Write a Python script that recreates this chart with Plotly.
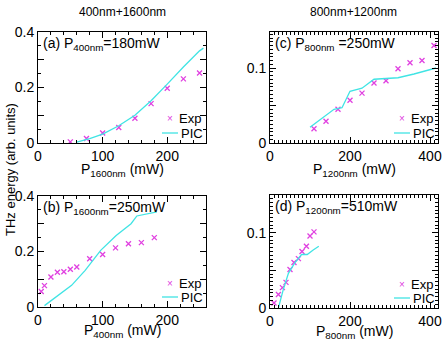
import plotly.graph_objects as go

W, H = 443, 343

# (a) P400nm = 180 mW, scan P1600nm
a_exp_x = [50, 75, 100, 125, 150, 175, 200, 225, 250]
a_exp_y = [0.004, 0.016, 0.036, 0.056, 0.089, 0.142, 0.197, 0.231, 0.252]
a_pic_x = [60, 80, 100, 125, 150, 175, 200, 225, 250, 256]
a_pic_y = [0.003, 0.016, 0.032, 0.062, 0.100, 0.152, 0.212, 0.274, 0.332, 0.342]

# (b) P1600nm = 250 mW, scan P400nm
b_exp_x = [5, 10, 20, 30, 40, 50, 60, 80, 100, 120, 140, 160, 180]
b_exp_y = [0.056, 0.077, 0.108, 0.125, 0.127, 0.136, 0.144, 0.174, 0.189, 0.213, 0.228, 0.232, 0.250]
b_pic_x = [10, 28, 52, 73, 97, 121, 137, 144, 153, 163, 184]
b_pic_y = [0.005, 0.036, 0.078, 0.132, 0.204, 0.258, 0.288, 0.300, 0.328, 0.333, 0.343]

# (c) P800nm = 250 mW, scan P1200nm
c_exp_x = [110, 140, 170, 200, 230, 260, 290, 320, 350, 380, 410]
c_exp_y = [0.019, 0.029, 0.045, 0.057, 0.0665, 0.080, 0.083, 0.099, 0.107, 0.110, 0.130]
c_pic_x = [100, 130, 160, 180, 200, 230, 260, 320, 360, 415]
c_pic_y = [0.021, 0.033, 0.045, 0.047, 0.069, 0.073, 0.085, 0.087, 0.092, 0.100]

# (d) P1200nm = 510 mW, scan P800nm
d_exp_x = [10, 21, 31, 40, 50, 60, 71, 80, 91, 100, 110]
d_exp_y = [0.0067, 0.018, 0.027, 0.034, 0.051, 0.0605, 0.0655, 0.075, 0.082, 0.0955, 0.101]
d_pic_x = [21, 33, 46, 62, 79, 93, 108, 122]
d_pic_y = [0.0, 0.024, 0.046, 0.060, 0.071, 0.071, 0.077, 0.082]

left_yticks = [0, 0.1, 0.2, 0.3, 0.4]
left_yticktext = ["0", "", "0.2", "", "0.4"]
right_yticks = [0, 0.05, 0.1]
right_yticktext = ["0", "", "0.1"]

MAG = "#e040e0"
CYAN = "#40e4e4"
FONT = "Liberation Sans, Arial, sans-serif"


def fx(px):
    return px / W


def fy(py):
    return 1 - py / H


def text(s, x, y, size=14, color="black", xanchor="left", yanchor="middle", **kw):
    return dict(text=s, x=fx(x), y=fy(y), xref="paper", yref="paper",
                xanchor=xanchor, yanchor=yanchor, showarrow=False, borderpad=0,
                font=dict(family=FONT, size=size, color=color), **kw)


panels = [
    # name, exp, pic, x px span, y px span, xrange, yrange, label, xtitle, title gap
    ("a", a_exp_x, a_exp_y, a_pic_x, a_pic_y, (38, 206), (32, 143), [0, 260], [0, 0.4],
     "(a) P<sub>400nm</sub>=180mW", "P<sub>1600nm</sub> (mW)", 17),
    ("c", c_exp_x, c_exp_y, c_pic_x, c_pic_y, (270, 438), (32, 143), [0, 420], [0, 0.148],
     "(c) P<sub>800nm</sub> =250mW", "P<sub>1200nm</sub> (mW)", 17),
    ("b", b_exp_x, b_exp_y, b_pic_x, b_pic_y, (38, 206), (196, 307), [0, 260], [0, 0.4],
     "(b) P<sub>1600nm</sub>=250mW", "P<sub>400nm</sub> (mW)", 14),
    ("d", d_exp_x, d_exp_y, d_pic_x, d_pic_y, (270, 438), (195, 308), [0, 420], [0, 0.15],
     "(d) P<sub>1200nm</sub>=510mW", "P<sub>800nm</sub> (mW)", 14),
]

fig = go.Figure()
annotations = []
shapes = []
layout = {}

for i, (name, ex, ey, px_, py_, xs, ys, xr, yr, label, xtitle, gap) in enumerate(panels):
    n = "" if i == 0 else str(i + 1)
    xa, ya = "x" + n, "y" + n
    fig.add_trace(go.Scatter(
        x=ex, y=ey, mode="markers", name="Exp", xaxis=xa, yaxis=ya, showlegend=False,
        marker=dict(symbol="x-thin", size=5, line=dict(color=MAG, width=1.3), color=MAG),
    ))
    fig.add_trace(go.Scatter(
        x=px_, y=py_, mode="lines", name="PIC", xaxis=xa, yaxis=ya, showlegend=False,
        line=dict(color=CYAN, width=1.3),
    ))
    right = name in ("c", "d")
    common = dict(
        showline=True, linecolor="black", linewidth=1, mirror="allticks",
        ticks="inside", ticklen=6, tickcolor="black", showgrid=False, zeroline=False,
        automargin=False,
        tickfont=dict(family=FONT, size=14, color="black"),
    )
    layout["xaxis" + n] = dict(
        common, domain=[fx(xs[0]), fx(xs[1])], range=xr, anchor=ya,
        dtick=200 if right else 100, tick0=0,
        minor=dict(dtick=10 if right else 20, ticklen=3, ticks="inside", tickcolor="black"),
    )
    layout["yaxis" + n] = dict(
        common, domain=[fy(ys[1]), fy(ys[0])], range=yr, anchor=xa,
        tickvals=right_yticks if right else left_yticks,
        ticktext=right_yticktext if right else left_yticktext,
        minor=dict(dtick=0.005 if right else 0.05, ticklen=3, ticks="inside", tickcolor="black"),
    )

    # panel label and x title
    annotations.append(text(label, xs[0] + 4, ys[0] + 2, yanchor="top"))
    annotations.append(text(xtitle, (xs[0] + xs[1]) / 2, ys[1] + gap, xanchor="center", yanchor="top"))

    # legend key, drawn by hand so the rows sit close together
    r, b = xs[1], ys[1]
    annotations.append(text("×", r - 36, b - 24, size=10, color=MAG, xanchor="center"))
    annotations.append(text("Exp", r - 28, b - 24, size=13))
    shapes.append(dict(type="line", xref="paper", yref="paper",
                       x0=fx(r - 44), x1=fx(r - 28), y0=fy(b - 10), y1=fy(b - 10),
                       line=dict(color=CYAN, width=1.3)))
    annotations.append(text("PIC", r - 26, b - 10, size=13))

annotations += [
    text("400nm+1600nm", 122, 12, size=12, xanchor="center"),
    text("800nm+1200nm", 353, 12, size=12, xanchor="center"),
    text("THz energy (arb. units)", 10, 170, size=13, xanchor="center", textangle=-90),
]

fig.update_layout(
    width=W, height=H, margin=dict(l=0, r=0, t=0, b=0, pad=0, autoexpand=False),
    plot_bgcolor="white", paper_bgcolor="white",
    showlegend=False, annotations=annotations, shapes=shapes, **layout,
)

# the default page has an 8px body margin; drop it so the figure fills the window
fig.write_html("out.html", config={"displayModeBar": False},
               post_script="document.body.style.margin = '0';")
